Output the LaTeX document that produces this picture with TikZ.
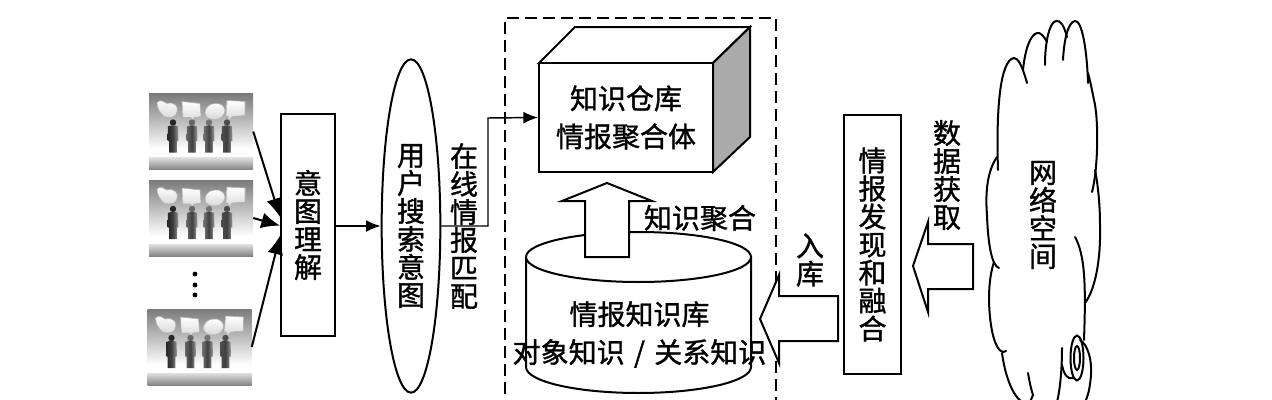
\documentclass[tikz,border=0pt]{standalone}
\usepackage{fontspec}
\setmainfont{Noto Sans CJK SC}[RawFeature={embolden=1.2}]
\usetikzlibrary{arrows.meta,shapes.geometric}
\newcommand{\vstack}{\fontsize{21}{21}\selectfont}
\newcommand{\hstack}{\fontsize{21}{28.5}\selectfont}
\tikzset{
  ln/.style={line width=1.5pt,black},
  thinln/.style={line width=1.1pt,black},
  vbox/.style={draw,ln,fill=white,inner sep=0pt,align=center,font=\vstack},
  lbl/.style={inner sep=0pt,align=center,font=\vstack},
  hlbl/.style={inner sep=0pt,align=center,font=\hstack},
  tip/.style={-{Latex[length=11pt,width=9pt]}},
  bigtip/.style={-{Latex[length=14pt,width=12pt]}},
  blockarrow/.style={draw,ln,fill=white,line join=miter},
  thumb/.style={inner sep=0pt,minimum width=78pt,minimum height=57pt},
  bubble/.style={draw=gray!60,line width=.4pt,top color=white,bottom color=gray!30},
  cloudln/.style={line width=1.5pt,black,line cap=round}
}
\newcommand{\crowd}[2]{%
  \begin{scope}[shift={(#1,#2)}]
    \shade[top color=black!52,bottom color=white] (0,0) rectangle (104,56);
    \shade[top color=black!12,bottom color=black!48] (0,64) rectangle (104,76);
    \path[bubble] (8,9) .. controls (12,5) and (15,9) .. (18,10) .. controls (25,8) and (30,13) .. (28,18) .. controls (28,24) and (20,25) .. (15,23) .. controls (11,19) and (8,15) .. (8,9) -- cycle;
    \path[bubble] (33,8) -- (51,10) -- (52,23) -- (45,24) -- (43,28) -- (42,24) -- (34,24) -- cycle;
    \path[bubble] (66,10) .. controls (60,10) and (56,15) .. (56,19) .. controls (56,24) and (61,26) .. (66,26) .. controls (73,26) and (76,20) .. (76,17) .. controls (76,13) and (71,9) .. (66,10) -- cycle;
    \path[bubble] (78,7) -- (96,8) -- (96,22) -- (83,23) -- (80,27) -- (79,23) -- (77,23) -- cycle;
    \foreach \px/\dk in {24/85,43/60,60/55,78/70}{
      \fill[black!\dk] (\px,29) circle (3.2);
      \shade[left color=black!\dk,right color=black!40,middle color=black!75] (\px-5,33) .. controls (\px-3,31.5) and (\px+3,31.5) .. (\px+5,33) -- (\px+5.5,47) -- (\px+3.8,48) -- (\px+3.8,59) -- (\px-3.8,59) -- (\px-3.8,48) -- (\px-5.5,47) -- cycle;
    }
  \end{scope}}
\begin{document}
\begin{tikzpicture}[x=0.75pt,y=-0.75pt]
\useasboundingbox (0,0) rectangle (1272,400);
\clip (0,0) rectangle (1272,400);
\fill[white] (0,0) rectangle (1272,400);

% user thumbnails
\crowd{149}{93.5}
\crowd{149}{180}
\crowd{147.5}{309}
\node[thumb] (u1) at (201,131.5) {};
\node[thumb] (u2) at (201,218) {};
\node[thumb] (u3) at (199.5,347) {};
\node[circle,fill=black,inner sep=0pt,minimum size=3.6pt] (d1) at (195,274) {};
\node[circle,fill=black,inner sep=0pt,minimum size=3.6pt] (d2) at (195,285) {};
\node[circle,fill=black,inner sep=0pt,minimum size=3.6pt] (d3) at (195,295) {};

% intent understanding
\node[vbox,minimum width=40.5pt,minimum height=166.5pt] (yitu) at (308,225) {意\\图\\理\\解};
\draw[ln,bigtip] (u1.east) -- ([yshift=6pt]yitu.west);
\draw[ln,bigtip] (u2.east) -- ([yshift=-.5pt]yitu.west);
\draw[ln,bigtip] (u3.east) -- ([yshift=-8pt]yitu.west);

% search intent
\node[draw,ln,ellipse,inner sep=0pt,minimum width=44pt,minimum height=250pt,align=center,font=\vstack] (sou) at (411,226) {用\\户\\搜\\索\\意\\图};
\draw[ln,tip] (yitu.east |- sou.west) -- (sou.west);

% dashed frame
\draw[ln,dash pattern=on 9pt off 4.5pt] (505,412) -- (505,18) -- (776,18) -- (776,412);

% warehouse box
\coordinate (ta) at (539,63);
\coordinate (tb) at (575,27);
\coordinate (tc) at (750,27);
\coordinate (td) at (713,63);
\coordinate (te) at (750,137);
\coordinate (tf) at (713,172);
\path[ln,draw,fill=white,line join=miter] (ta) -- (tb) -- (tc) -- (td) -- cycle;
\path[ln,draw,fill=black!33,line join=miter] (td) -- (tc) -- (te) -- (tf) -- cycle;
\node[draw,ln,fill=white,inner sep=0pt,minimum width=130.5pt,minimum height=81.75pt,align=center,font=\hstack] (cangku) at (626,117.5) {知识仓库\\情报聚合体};

% matching connector
\node[lbl] (pipei) at (464,226) {在\\线\\情\\报\\匹\\配};
\coordinate (k1) at (488,226);
\coordinate (k2) at (488,118);
\draw[thinln,tip] (sou.east) -- (k1) -- (k2) -- (cangku.west);

% cylinder
\path[ln,draw,fill=white] (526,257) -- (526,367) arc[start angle=180,end angle=0,x radius=112.5,y radius=26] -- (751,257);
\path[ln,draw,fill=white] (638.5,257) ellipse[x radius=112.5,y radius=25];

% ruku block arrow
\path[blockarrow] (838,296) -- (779,296) -- (779,275) -- (760,319) -- (779,363) -- (779,341) -- (838,341) -- cycle;
\node[hlbl] (ku) at (639.5,334.5) {情报知识库\\对象知识\,\,/\,\,关系知识};

% up block arrow
\path[blockarrow] (585,257) -- (585,201) -- (562,201) -- (607,183) -- (652,201) -- (629,201) -- (629,257) -- cycle;
\node[lbl] (juhe) at (700,218) {知识聚合};
\node[lbl] (ruku) at (810,260) {入\\库};

% discovery box
\node[vbox,minimum width=42.75pt,minimum height=194pt] (faxian) at (872.5,244.5) {情\\报\\发\\现\\和\\融\\合};

% data block arrow
\path[blockarrow] (973,244) -- (928,244) -- (928,222) -- (913,266) -- (928,312) -- (928,289) -- (973,289) -- cycle;
\node[lbl] (huoqu) at (947,175) {数\\据\\获\\取};

% cloud
\draw[cloudln] (1027,83) .. controls (1022,65) and (1018,58) .. (1014,58) .. controls (1000,60) and (996,110) .. (998,170);
\draw[cloudln] (997,157) .. controls (988,170) and (985,190) .. (987,215) .. controls (988,245) and (992,266) .. (999,268);
\draw[cloudln] (994,262) .. controls (988,280) and (988,305) .. (991,325) .. controls (994,345) and (1000,355) .. (1006,351);
\draw[cloudln] (1002,353) .. controls (1005,375) and (1012,395) .. (1022,402);
\draw[cloudln] (1028,373) .. controls (1030,385) and (1032,392) .. (1033,395) -- (1030,402);
\draw[cloudln] (1062,348) .. controls (1062,370) and (1060,390) .. (1057,402);
\draw[cloudln] (1075,237) .. controls (1085,255) and (1086,285) .. (1084,340);
\draw[cloudln] (1085,303) .. controls (1095,290) and (1101,260) .. (1100,225) .. controls (1100,205) and (1098,185) .. (1095,170);
\draw[cloudln] (1092,192) .. controls (1098,170) and (1099,120) .. (1094,100) .. controls (1092,90) and (1090,80) .. (1088,73);
\draw[cloudln] (1088,83) .. controls (1087,50) and (1082,20) .. (1075,21) .. controls (1068,22) and (1064,40) .. (1063,60);
\draw[cloudln] (1067,37) .. controls (1064,25) and (1060,20) .. (1056,21) .. controls (1050,22) and (1045,40) .. (1045,65);
\draw[cloudln] (1047,42) .. controls (1044,36) and (1040,32) .. (1037,33) .. controls (1030,35) and (1025,50) .. (1023,70);
\draw[cloudln] (1077,358) ellipse[x radius=6.5,y radius=22.5];
\draw[cloudln] (1077,358) ellipse[x radius=3,y radius=12];
\draw[cloudln] (1062,365) .. controls (1064,375) and (1068,380) .. (1073,378);
\draw[cloudln] (1080,340) .. controls (1088,345) and (1092,360) .. (1091,375) .. controls (1090,388) and (1088,396) .. (1085,402);
\node[lbl] (wang) at (1043,215) {网\\络\\空\\间};
\end{tikzpicture}
\end{document}
